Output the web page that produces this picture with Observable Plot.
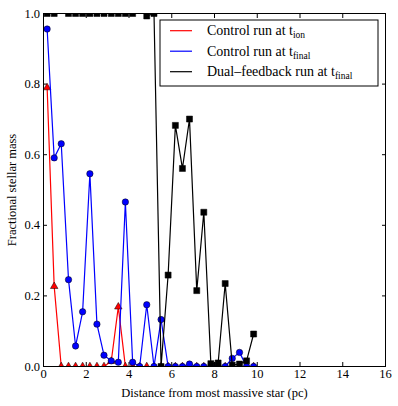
<!DOCTYPE html>
<html>
<head>
<meta charset="utf-8">
<script src="https://cdn.jsdelivr.net/npm/d3@7"></script>
<script src="https://cdn.jsdelivr.net/npm/@observablehq/plot@0.6"></script>
<style>
  html, body { margin: 0; padding: 0; background: #fff; }
</style>
</head>
<body>
<div id="chart"></div>
<script>
// Bin centres (pc)
const distance = [0.17, 0.5, 0.83, 1.17, 1.5, 1.83, 2.17, 2.5, 2.83, 3.17,
                  3.5, 3.83, 4.17, 4.5, 4.83, 5.17, 5.5, 5.83, 6.17, 6.5,
                  6.83, 7.17, 7.5, 7.83, 8.17, 8.5, 8.83, 9.17, 9.5, 9.83];
// Control run at t_ion
const controlIon = [0.79, 0.227, 0, 0, 0, 0, 0, 0, 0, 0.015,
                    0.169, 0, 0, 0, 0, 0, 0, 0, 0, 0,
                    0, 0, 0, 0, 0, 0, 0, 0, 0, 0];
// Control run at t_final
const controlFinal = [0.956, 0.591, 0.631, 0.246, 0.058, 0.155, 0.546, 0.12, 0.032, 0.016,
                      0.012, 0.466, 0.012, 0, 0.175, 0, 0.133, 0, 0, 0,
                      0.007, 0, 0, 0, 0, 0, 0.023, 0.04, 0, 0];
// Dual-feedback run at t_final
const dualFinal = [1, 1, null, 1, 1, 1, 1, 1, 1, 1,
                   1, 1, 1, null, 0.993, 1, 0, 0.259, 0.683, 0.561,
                   0.701, 0.215, 0.437, 0.008, 0.01, 0.235, 0.004, 0.007, 0.016, 0.092];

const xTicks = [0, 2, 4, 6, 8, 10, 12, 14, 16];
const yTicks = [0, 0.2, 0.4, 0.6, 0.8, 1.0];
const seriesNames = ["Control run at t", "Control run at t", "Dual\u2013feedback run at t"];
const seriesSubs = ["ion", "final", "final"];
const seriesColors = ["#ff0000", "#0000ff", "#000000"];
const xLabel = "Distance from most massive star (pc)";
const yLabel = "Fractional stellar mass";

const mk = (ys) => distance.map((d, i) => ({x: d, y: ys[i]}));
const red = mk(controlIon), blue = mk(controlFinal), black = mk(dualFinal);

const svg = Plot.plot({
  width: 398,
  height: 406,
  marginLeft: 43,
  marginRight: 13,
  marginTop: 13,
  marginBottom: 40,
  style: {fontFamily: "'Liberation Serif', serif", fontSize: "12.5px", background: "#fff", color: "#000"},
  x: {domain: [0, 16]},
  y: {domain: [0, 1]},
  marks: [
    // axis labels & tick text
    Plot.axisX({ticks: xTicks, anchor: "bottom", tickSize: 0, tickPadding: 3, tickFormat: d => String(d),
                label: xLabel, labelAnchor: "center", labelOffset: 30, labelArrow: "none", fontSize: 12.5}),
    Plot.axisY({ticks: yTicks, anchor: "left", tickSize: 0, tickPadding: 3.5, tickFormat: d => d.toFixed(1),
                label: yLabel, labelAnchor: "center", labelOffset: 36, labelArrow: "none", fontSize: 12.5}),
    // inward ticks on all sides
    Plot.axisX({ticks: xTicks, anchor: "bottom", tickSize: -4, tickFormat: () => "", label: null}),
    Plot.axisX({ticks: xTicks, anchor: "top", tickSize: -4, tickFormat: () => "", label: null}),
    Plot.axisY({ticks: yTicks, anchor: "left", tickSize: -4, tickFormat: () => "", label: null}),
    Plot.axisY({ticks: yTicks, anchor: "right", tickSize: -4, tickFormat: () => "", label: null}),
    // series
    Plot.line(red, {x: "x", y: "y", stroke: seriesColors[0], strokeWidth: 1.2, clip: "frame"}),
    Plot.dot(red, {x: "x", y: "y", symbol: "triangle", r: 2.8, fill: seriesColors[0], stroke: "#000", strokeWidth: 0.5, clip: "frame"}),
    Plot.line(blue, {x: "x", y: "y", stroke: seriesColors[1], strokeWidth: 1.2, clip: "frame"}),
    Plot.dot(blue, {x: "x", y: "y", symbol: "circle", r: 3.2, fill: seriesColors[1], stroke: "#000", strokeWidth: 0.5, clip: "frame"}),
    Plot.line(black, {x: "x", y: "y", stroke: seriesColors[2], strokeWidth: 1.2, clip: "frame"}),
    Plot.dot(black.filter(d => d.y != null), {x: "x", y: "y", symbol: "square", r: 3.4, fill: seriesColors[2], stroke: "#000", strokeWidth: 0.5, clip: "frame"}),
    Plot.frame({stroke: "#000", strokeWidth: 1})
  ]
});

// Legend
const g = d3.select(svg).append("g").attr("class", "legend")
  .style("text-anchor", "start").style("font-family", "'Liberation Serif', serif");
const lx = 160, ly = 20, lw = 218, lh = 66;
g.append("rect").attr("x", lx).attr("y", ly).attr("width", lw).attr("height", lh)
  .attr("fill", "#fff").attr("stroke", "#000").attr("stroke-width", 1);
seriesNames.forEach((name, i) => {
  const y = 30.7 + i * 20.5;
  g.append("line").attr("x1", 170).attr("x2", 192).attr("y1", y).attr("y2", y)
    .attr("stroke", seriesColors[i]).attr("stroke-width", 1.2);
  const t = g.append("text").attr("x", 207).attr("y", y + 4.5)
    .style("text-anchor", "start")
    .style("font-family", "'Liberation Serif', serif")
    .style("font-size", "14px").attr("fill", "#000");
  t.append("tspan").text(name);
  t.append("tspan").attr("dy", 3).style("font-size", "9.5px").text(seriesSubs[i]);
});

document.getElementById("chart").appendChild(svg);
</script>
</body>
</html>
